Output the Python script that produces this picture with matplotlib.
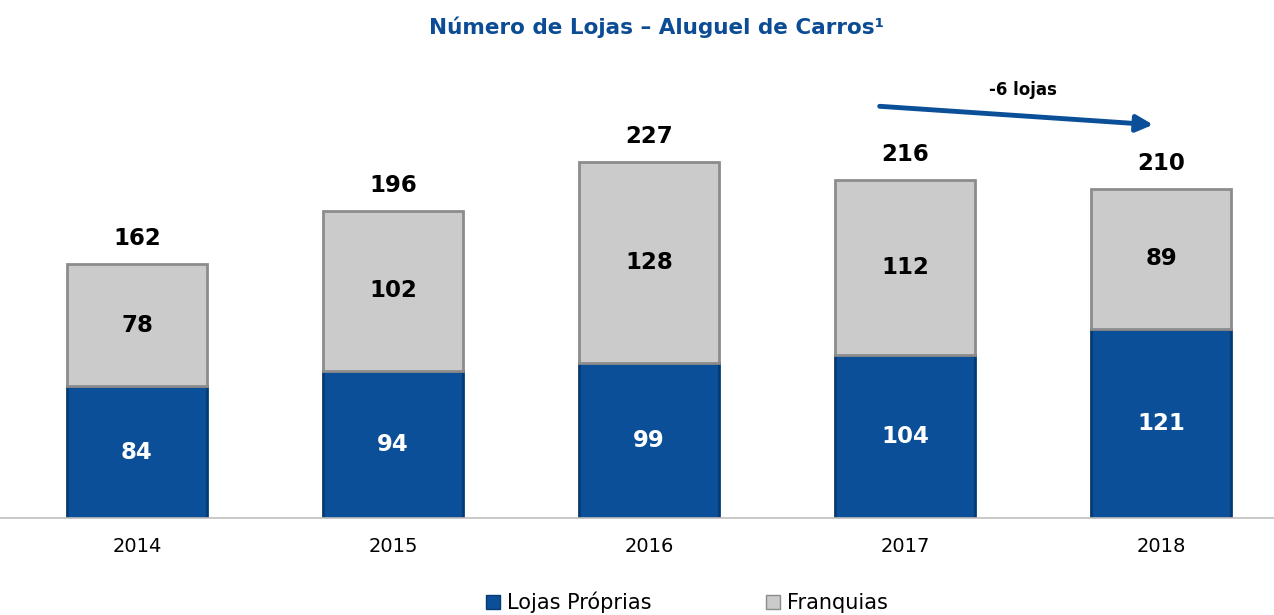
import matplotlib.pyplot as plt
from matplotlib.patches import Patch

anos = ['2014', '2015', '2016', '2017', '2018']
proprias = [84, 94, 99, 104, 121]
franquias = [78, 102, 128, 112, 89]
totais = [162, 196, 227, 216, 210]

azul = '#0A4F98'
cinza = '#CBCBCB'

fig = plt.figure(figsize=(12.74, 6.15), dpi=100)
ax = fig.add_axes([0, 0.1577, 1, 0.764])

x = range(len(anos))
ax.bar(x, proprias, width=0.547, color=azul, edgecolor='#063A72', linewidth=2)
ax.bar(x, franquias, width=0.547, bottom=proprias, color=cinza, edgecolor='#8C8C8C', linewidth=2)

for i in x:
    ax.text(i, proprias[i] / 2, str(proprias[i]), ha='center', va='center',
            fontsize=16.5, fontweight='bold', color='white')
    ax.text(i, proprias[i] + franquias[i] / 2, str(franquias[i]), ha='center', va='center',
            fontsize=16.5, fontweight='bold', color='black')
    ax.text(i, totais[i] + 9, str(totais[i]), ha='center', va='bottom',
            fontsize=16.5, fontweight='bold', color='black')

# seta -6 lojas
ax.annotate('', xy=(3.98, 251), xytext=(2.89, 263),
            arrowprops=dict(arrowstyle='-|>,head_length=1.0,head_width=0.5',
                            color=azul, lw=3.5), annotation_clip=False)
ax.text(3.46, 273, '-6 lojas', ha='center', va='center', fontsize=12,
        fontweight='bold', color='black')

ax.set_xlim(-0.535, 4.441)
ax.set_ylim(0, 300)
ax.set_yticks([])
ax.set_xticks(list(x))
ax.set_xticklabels(anos, fontsize=14)
ax.tick_params(axis='x', length=0, pad=14)
for s in ['top', 'right', 'left']:
    ax.spines[s].set_visible(False)
ax.spines['bottom'].set_color('#BFBFBF')
ax.spines['bottom'].set_linewidth(1.2)

fig.text(0.515, 1 - 27 / 615, 'Número de Lojas – Aluguel de Carros¹', ha='center', va='center',
         fontsize=15.5, fontweight='bold', color='#0B4C95')

handles = [Patch(facecolor=azul, edgecolor='#063A72'), Patch(facecolor=cinza, edgecolor='#8C8C8C')]
fig.legend(handles, ['Lojas Próprias', 'Franquias'], loc='center', bbox_to_anchor=(0.539, 0.02),
           ncol=2, frameon=False, fontsize=15, handlelength=0.7, handleheight=0.7,
           handletextpad=0.3, columnspacing=5.5)

fig.savefig('out.png', dpi=100)
